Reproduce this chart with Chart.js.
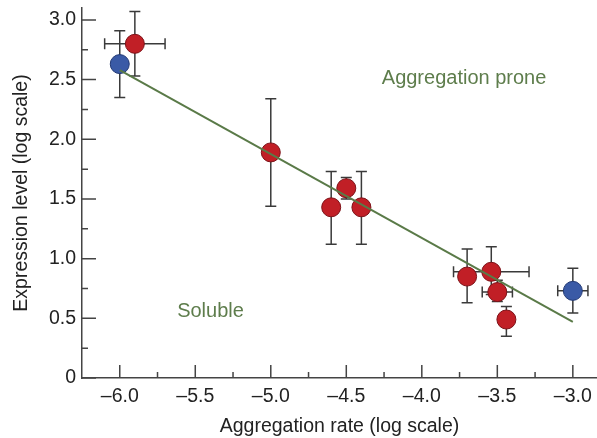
<!DOCTYPE html>
<html>
<head>
<meta charset="utf-8">
<script src="https://cdn.jsdelivr.net/npm/chart.js@4/dist/chart.umd.min.js"></script>
<style>
    html, body { margin: 0; padding: 0; background: #fff; }
    #wrap { width: 597px; height: 438px; position: relative; }
</style>
</head>
<body>
<div id="wrap"><canvas id="chart"></canvas></div>
<script>
// points: aggregation rate (x) vs expression level (y), both log scale
const pointX = [-6.0, -5.9, -5.0, -4.6, -4.5, -4.4, -3.7, -3.54, -3.5, -3.44, -3.0];
const pointY = [2.63, 2.80, 1.89, 1.43, 1.59, 1.43, 0.85, 0.89, 0.72, 0.49, 0.73];
const pointGroup = ['blue', 'red', 'red', 'red', 'red', 'red', 'red', 'red', 'red', 'red', 'blue'];
const xErr = [0, 0.2, 0, 0, 0, 0, 0, 0.25, 0.1, 0, 0.1];
const yLow = [2.35, 2.53, 1.44, 1.12, 1.50, 1.12, 0.63, 0.70, 0.64, 0.35, 0.545];
const yHigh = [2.91, 3.07, 2.34, 1.73, 1.68, 1.73, 1.08, 1.10, 0.82, 0.60, 0.92];

// fitted trend line
const lineX = [-6.0, -3.0];
const lineY = [2.58, 0.47];

const xTicks = [-6.0, -5.5, -5.0, -4.5, -4.0, -3.5, -3.0];
const xMinor = [-5.75, -5.25, -4.75, -4.25, -3.75, -3.25];
const yTicks = [0, 0.5, 1.0, 1.5, 2.0, 2.5, 3.0];
const yMinor = [0.25, 0.75, 1.25, 1.75, 2.25, 2.75];

const notes = [
    { text: 'Aggregation prone', x: -4.265, y: 2.51 },
    { text: 'Soluble', x: -5.62, y: 0.56 }
];

const FONT = 'Liberation Sans, Arial, Helvetica, sans-serif';
const fills = { red: '#c11f26', blue: '#3a5aa6' };
const edges = { red: '#7d1218', blue: '#233a75' };
const axisColor = '#444';
const green = '#5e7d4c';

const fmt = v => v === 0 ? '0' : (v < 0 ? '\u2013' : '') + Math.abs(v).toFixed(1);

const extras = {
    id: 'extras',
    beforeDatasetsDraw(chart) {
        const { ctx, scales: { x, y } } = chart;
        ctx.save();
        ctx.strokeStyle = '#3a3a3a';
        ctx.lineWidth = 1.5;
        const cap = 5.5;
        pointX.forEach((px, i) => {
            const cx = x.getPixelForValue(px);
            const cy = y.getPixelForValue(pointY[i]);
            const t = y.getPixelForValue(yHigh[i]);
            const b = y.getPixelForValue(yLow[i]);
            ctx.beginPath();
            ctx.moveTo(cx, t); ctx.lineTo(cx, b);
            ctx.moveTo(cx - cap, t); ctx.lineTo(cx + cap, t);
            ctx.moveTo(cx - cap, b); ctx.lineTo(cx + cap, b);
            if (xErr[i]) {
                const l = x.getPixelForValue(px - xErr[i]);
                const r = x.getPixelForValue(px + xErr[i]);
                ctx.moveTo(l, cy); ctx.lineTo(r, cy);
                ctx.moveTo(l, cy - cap); ctx.lineTo(l, cy + cap);
                ctx.moveTo(r, cy - cap); ctx.lineTo(r, cy + cap);
            }
            ctx.stroke();
        });
        ctx.restore();
    },
    afterDraw(chart) {
        const { ctx, chartArea: a, scales: { x, y } } = chart;
        ctx.save();
        // inward tick marks
        ctx.strokeStyle = axisColor;
        ctx.lineWidth = 1.5;
        ctx.beginPath();
        xTicks.forEach(v => { const p = x.getPixelForValue(v); ctx.moveTo(p, a.bottom); ctx.lineTo(p, a.bottom - 13); });
        xMinor.forEach(v => { const p = x.getPixelForValue(v); ctx.moveTo(p, a.bottom); ctx.lineTo(p, a.bottom - 6); });
        yTicks.forEach(v => { const p = y.getPixelForValue(v); ctx.moveTo(a.left, p); ctx.lineTo(a.left + 14, p); });
        yMinor.forEach(v => { const p = y.getPixelForValue(v); ctx.moveTo(a.left, p); ctx.lineTo(a.left + 6, p); });
        ctx.stroke();
        // region notes
        ctx.fillStyle = green;
        ctx.font = '20px ' + FONT;
        ctx.textAlign = 'left';
        ctx.textBaseline = 'middle';
        notes.forEach(n => ctx.fillText(n.text, x.getPixelForValue(n.x), y.getPixelForValue(n.y)));
        ctx.restore();
    }
};

new Chart(document.getElementById('chart'), {
    type: 'scatter',
    data: {
        datasets: [{
            type: 'line',
            data: lineX.map((v, i) => ({ x: v, y: lineY[i] })),
            borderColor: '#5a7a48',
            borderWidth: 2,
            pointRadius: 0,
            fill: false,
            order: 0
        }, {
            data: pointX.map((v, i) => ({ x: v, y: pointY[i] })),
            backgroundColor: pointGroup.map(g => fills[g]),
            borderColor: pointGroup.map(g => edges[g]),
            borderWidth: 1,
            pointRadius: 9.5,
            order: 1
        }]
    },
    options: {
        responsive: true,
        maintainAspectRatio: false,
        animation: false,
        layout: { autoPadding: false, padding: { top: 8, right: 0, left: 0, bottom: 0 } },
        plugins: { legend: { display: false }, tooltip: { enabled: false } },
        scales: {
            x: {
                type: 'linear',
                min: -6.25,
                max: -2.84,
                afterBuildTicks: s => { s.ticks = xTicks.map(v => ({ value: v })); },
                afterFit: s => { s.height = 60; s.paddingLeft = 0; s.paddingRight = 0; },
                grid: { display: false, drawTicks: false },
                border: { display: true, color: axisColor, width: 1.5 },
                ticks: { color: '#222', font: { family: FONT, size: 19.5 }, padding: 7, maxRotation: 0, callback: fmt },
                title: { display: true, text: 'Aggregation rate (log scale)', color: '#222', font: { family: FONT, size: 19.5 }, padding: { top: 0, bottom: 0 } }
            },
            y: {
                type: 'linear',
                min: 0,
                max: 3.1,
                afterBuildTicks: s => { s.ticks = yTicks.map(v => ({ value: v })); },
                afterFit: s => { s.width = 82; s.paddingTop = 0; s.paddingBottom = 0; },
                grid: { display: false, drawTicks: false },
                border: { display: true, color: axisColor, width: 1.5 },
                ticks: { color: '#222', font: { family: FONT, size: 19.5 }, padding: 6, callback: fmt },
                title: { display: true, text: 'Expression level (log scale)', color: '#222', font: { family: FONT, size: 19.5 }, padding: { top: 10, bottom: 0 } }
            }
        }
    },
    plugins: [extras]
});
</script>
</body>
</html>
